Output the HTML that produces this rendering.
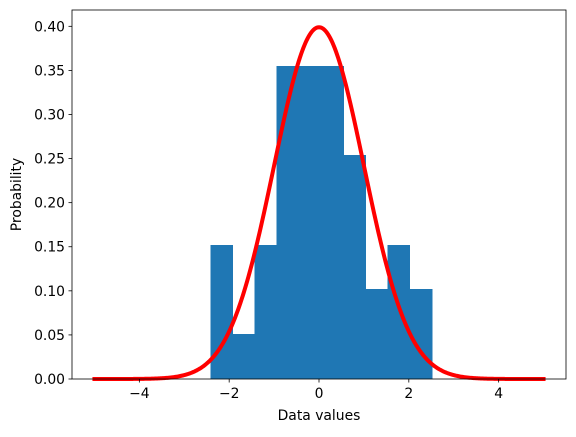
<!DOCTYPE html>
<html><head><meta charset="utf-8"><style>
body{margin:0;background:#fff;}
svg text{font-family:"DejaVu Sans","Liberation Sans",sans-serif;font-size:13.9px;fill:#000;}
</style></head><body>
<svg id="chart" width="576" height="432" xmlns="http://www.w3.org/2000/svg"></svg>
<script>
const binStart = -2.42;
const binWidth = 0.493;
const binHeights = [0.152, 0.051, 0.152, 0.355, 0.355, 0.355, 0.254, 0.102, 0.152, 0.102];
const xTicks = [-4, -2, 0, 2, 4];
const yTicks = [0, 0.05, 0.10, 0.15, 0.20, 0.25, 0.30, 0.35, 0.40];
const yTickLabels = ["0.00","0.05","0.10","0.15","0.20","0.25","0.30","0.35","0.40"];
const curveMin = -5, curveMax = 5, curveMu = 0, curveSigma = 1;

const L=72,R=566,T=10,B=379;
const xmin=-5.5,xmax=5.5,ymin=0,ymax=0.4185;
const sx=v=>L+(v-xmin)/(xmax-xmin)*(R-L);
const sy=v=>B-(v-ymin)/(ymax-ymin)*(B-T);
const svg=document.getElementById('chart');
const NS='http://www.w3.org/2000/svg';
function mk(tag,attrs,parent){const e=document.createElementNS(NS,tag);for(const k in attrs)e.setAttribute(k,attrs[k]);(parent||svg).appendChild(e);return e;}

const bars=mk('g',{'shape-rendering':'crispEdges'});


binHeights.forEach((h,i)=>{
  const x0=binStart+i*binWidth,x1=x0+binWidth;
  const r=mk('rect',{x:sx(x0),y:sy(h),width:sx(x1)-sx(x0)+0.6,height:sy(0)-sy(h),fill:'#1f77b4'},bars);
  
  
});

let d='';
for(let i=0;i<=400;i++){
  const x=curveMin+(curveMax-curveMin)*i/400;
  const y=Math.exp(-0.5*((x-curveMu)/curveSigma)**2)/(curveSigma*Math.sqrt(2*Math.PI));
  d+=(i?'L':'M')+sx(x).toFixed(2)+','+sy(y).toFixed(2);
}
const line=mk('path',{d:d,fill:'none',stroke:'#ff0000','stroke-width':4,'stroke-linecap':'square'});



const frame=mk('rect',{x:L,y:T,width:R-L,height:B-T,fill:'none',stroke:'#000','stroke-width':0.8});



xTicks.forEach(v=>{
  const x=sx(v);
  mk('line',{x1:x,x2:x,y1:B,y2:B+3.5,stroke:'#000','stroke-width':0.8});
  const t=mk('text',{x:x,y:B+19,'text-anchor':'middle'});
  t.textContent=(v<0?'\u2212'+(-v):v);
  
  
});
yTicks.forEach((v,i)=>{
  const y=sy(v);
  mk('line',{x1:L-3.5,x2:L,y1:y,y2:y,stroke:'#000','stroke-width':0.8});
  const t=mk('text',{x:L-7,y:y+5,'text-anchor':'end'});
  t.textContent=yTickLabels[i];
  
  
});
const xt=mk('text',{x:(L+R)/2,y:420,'text-anchor':'middle'});
xt.textContent='Data values';


const yt=mk('text',{x:0,y:0,'text-anchor':'middle',transform:'translate(21,'+((T+B)/2)+') rotate(-90)'});
yt.textContent='Probability';


</script>
</body></html>
